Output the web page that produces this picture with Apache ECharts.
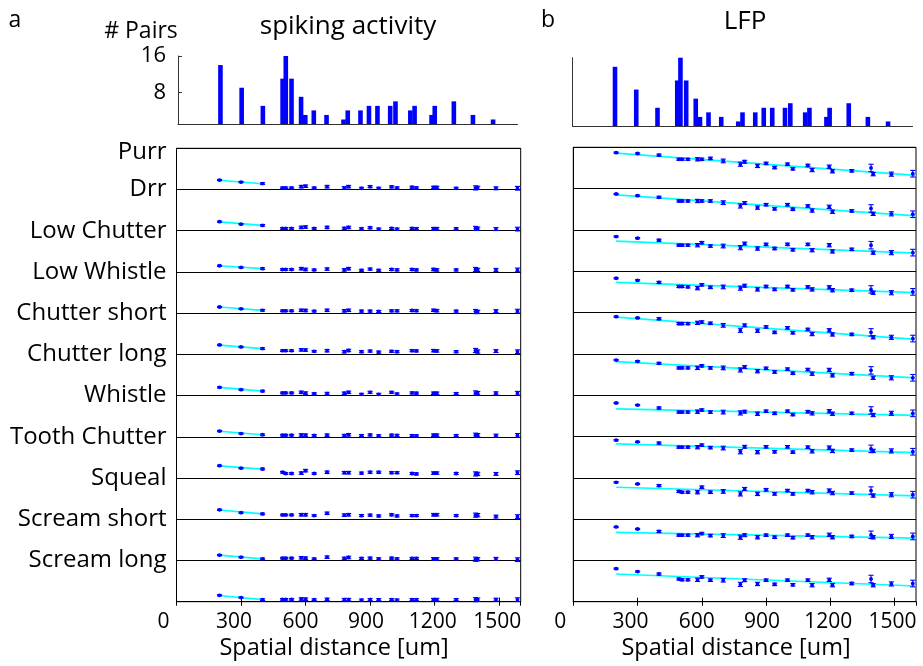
<!DOCTYPE html>
<html><head><meta charset="utf-8">
<script src="https://cdn.jsdelivr.net/npm/echarts@6/dist/echarts.min.js"></script>
<style>html,body{margin:0;padding:0;background:#fff}#c{width:923px;height:666px}</style>
</head><body><div id="c"></div>
<script>
// ---------- data ----------
const distances = [200,300,400,493,508,535,580,600,640,700,780,800,860,900,940,1000,1025,1095,1115,1195,1210,1300,1390,1400,1485,1585];
const pairCounts = [14,9,5,11,16,11,7,3,4,3,2,4,4,5,5,5,6,4,5,3,5,6,3,1,2,1];
const rowLabels = ['Purr','Drr','Low Chutter','Low Whistle','Chutter short','Chutter long','Whistle','Tooth Chutter','Squeal','Scream short','Scream long'];
const xTickValues = [0,300,600,900,1200,1500];
const pairTicks = [8,16];

// spiking activity: per-call correlation (row units, 0 = row bottom, 1 = row top)
const spikingRows = [
 [0.23,0.18,0.145,0.04,0.04,0.04,0.07,0.08,0.04,0.07,0.04,0.07,0.03,0.07,0.03,0.065,0.04,0.055,0.04,0.05,0.05,0.03,0.04,0.04,0.03,0.03],
 [0.22,0.16,0.13,0.056,0.056,0.056,0.08,0.09,0.056,0.08,0.056,0.08,0.048,0.072,0.04,0.056,0.04,0.056,0.05,0.05,0.05,0.048,0.056,0.05,0.04,0.04],
 [0.15,0.11,0.08,0.06,0.06,0.06,0.08,0.06,0.05,0.07,0.05,0.08,0.04,0.07,0.04,0.06,0.05,0.06,0.05,0.06,0.05,0.05,0.06,0.05,0.05,0.05],
 [0.15,0.105,0.07,0.057,0.057,0.057,0.07,0.065,0.05,0.07,0.057,0.07,0.05,0.05,0.04,0.057,0.057,0.065,0.06,0.07,0.06,0.05,0.04,0.03,0.05,0.05],
 [0.23,0.18,0.14,0.09,0.09,0.09,0.11,0.105,0.075,0.09,0.065,0.095,0.065,0.08,0.055,0.075,0.065,0.09,0.085,0.09,0.085,0.065,0.095,0.07,0.08,0.065],
 [0.20,0.145,0.11,0.065,0.065,0.065,0.08,0.06,0.05,0.05,0.057,0.08,0.03,0.08,0.03,0.08,0.04,0.065,0.06,0.057,0.057,0.05,0.065,0.06,0.057,0.057],
 [0.14,0.08,0.05,0.04,0.04,0.04,0.045,0.04,0.035,0.04,0.03,0.05,0.03,0.045,0.025,0.04,0.035,0.03,0.025,0.04,0.04,0.03,0.04,0.04,0.03,0.035],
 [0.30,0.24,0.22,0.14,0.11,0.11,0.12,0.18,0.11,0.14,0.13,0.13,0.12,0.14,0.14,0.13,0.13,0.11,0.10,0.12,0.12,0.11,0.10,0.10,0.10,0.13],
 [0.23,0.16,0.13,0.105,0.105,0.105,0.11,0.11,0.09,0.145,0.10,0.11,0.09,0.10,0.08,0.11,0.08,0.09,0.09,0.11,0.11,0.09,0.10,0.10,0.065,0.065],
 [0.13,0.08,0.04,0.057,0.057,0.057,0.065,0.057,0.04,0.08,0.05,0.073,0.05,0.057,0.04,0.057,0.04,0.05,0.05,0.04,0.04,0.04,0.03,0.03,0.04,0.02],
 [0.155,0.10,0.05,0.057,0.057,0.057,0.065,0.06,0.05,0.057,0.05,0.05,0.04,0.05,0.05,0.05,0.04,0.05,0.05,0.05,0.05,0.05,0.05,0.05,0.05,0.05]
];
const spikingErr = [0.015,0.015,0.02,0.02,0.02,0.02,0.03,0.03,0.02,0.03,0.03,0.03,0.025,0.025,0.025,0.025,0.025,0.025,0.025,0.03,0.03,0.025,0.05,0.04,0.035,0.045];
const spikingFitStart = [0.225,0.215,0.15,0.15,0.225,0.20,0.135,0.295,0.225,0.13,0.15];   // at 200 um
const spikingFitEnd   = [0.14,0.13,0.08,0.07,0.14,0.11,0.05,0.215,0.13,0.04,0.05];       // at 400 um

// LFP
const lfpRows = [
 [0.87,0.85,0.81,0.71,0.71,0.71,0.71,0.71,0.73,0.67,0.59,0.65,0.55,0.61,0.51,0.59,0.48,0.56,0.45,0.53,0.42,0.43,0.50,0.35,0.35,0.36],
 [0.87,0.83,0.79,0.70,0.70,0.70,0.70,0.70,0.70,0.66,0.58,0.65,0.54,0.61,0.51,0.61,0.50,0.58,0.47,0.56,0.44,0.46,0.52,0.39,0.39,0.38],
 [0.84,0.80,0.75,0.63,0.63,0.63,0.63,0.69,0.61,0.61,0.57,0.67,0.55,0.65,0.55,0.65,0.52,0.65,0.51,0.63,0.48,0.53,0.63,0.45,0.45,0.45],
 [0.83,0.78,0.73,0.63,0.63,0.62,0.59,0.67,0.61,0.62,0.59,0.65,0.56,0.63,0.56,0.63,0.55,0.62,0.56,0.61,0.54,0.54,0.56,0.48,0.48,0.50],
 [0.90,0.87,0.85,0.73,0.73,0.73,0.75,0.77,0.74,0.69,0.57,0.69,0.56,0.65,0.52,0.63,0.51,0.59,0.48,0.57,0.47,0.47,0.52,0.40,0.40,0.37],
 [0.85,0.82,0.77,0.66,0.66,0.66,0.66,0.71,0.66,0.66,0.61,0.68,0.58,0.65,0.56,0.63,0.53,0.62,0.52,0.61,0.48,0.52,0.60,0.42,0.42,0.42],
 [0.81,0.76,0.69,0.59,0.59,0.59,0.60,0.64,0.59,0.59,0.57,0.60,0.55,0.61,0.56,0.61,0.53,0.60,0.56,0.61,0.55,0.56,0.63,0.52,0.56,0.56],
 [0.91,0.87,0.84,0.74,0.74,0.74,0.74,0.79,0.73,0.72,0.63,0.75,0.62,0.75,0.63,0.75,0.62,0.74,0.64,0.73,0.65,0.67,0.70,0.65,0.65,0.63],
 [0.89,0.85,0.81,0.67,0.65,0.65,0.65,0.77,0.65,0.67,0.61,0.73,0.61,0.71,0.61,0.69,0.61,0.69,0.65,0.69,0.63,0.63,0.69,0.57,0.59,0.59],
 [0.81,0.76,0.70,0.61,0.61,0.61,0.61,0.65,0.60,0.60,0.56,0.61,0.56,0.61,0.56,0.61,0.55,0.61,0.56,0.62,0.56,0.58,0.62,0.56,0.58,0.58],
 [0.80,0.73,0.67,0.55,0.53,0.53,0.53,0.60,0.52,0.52,0.42,0.52,0.43,0.52,0.42,0.52,0.41,0.52,0.40,0.53,0.40,0.44,0.55,0.40,0.43,0.44]
];
const lfpErr = [0.015,0.015,0.025,0.025,0.025,0.025,0.04,0.03,0.03,0.045,0.05,0.035,0.04,0.03,0.03,0.03,0.03,0.03,0.04,0.04,0.04,0.03,0.09,0.04,0.05,0.08];
const lfpFitStart = [0.86,0.85,0.73,0.73,0.89,0.81,0.67,0.82,0.77,0.68,0.67];  // at 200 um
const lfpFitEnd   = [0.32,0.34,0.44,0.48,0.35,0.42,0.51,0.61,0.56,0.54,0.38];  // at 1600 um

// ---------- chart ----------
const FONT = "'Open Sans', sans-serif";
const BLUE = '#0000ff';
const chart = echarts.init(document.getElementById('c'), null, {renderer: 'canvas'});
const nRows = rowLabels.length;

function rowBase(i) { return nRows - 1 - i; }

function errItem(params, api) {
  const x = api.value(0), y = api.value(1), e = api.value(2);
  const c = api.coord([x, y]);
  const t = api.coord([x, y + e]);
  const b = api.coord([x, y - e]);
  const w = 2.6;
  const st = {stroke: BLUE, lineWidth: 1.1};
  return {type: 'group', children: [
    {type: 'line', shape: {x1: c[0], y1: t[1], x2: c[0], y2: b[1]}, style: st},
    {type: 'line', shape: {x1: c[0] - w, y1: t[1], x2: c[0] + w, y2: t[1]}, style: st},
    {type: 'line', shape: {x1: c[0] - w, y1: b[1], x2: c[0] + w, y2: b[1]}, style: st},
    {type: 'circle', shape: {cx: c[0], cy: c[1], r: 1.9}, style: {fill: BLUE}}
  ]};
}

function errData(rows, err) {
  const out = [];
  rows.forEach((r, i) => r.forEach((v, j) => out.push([distances[j], rowBase(i) + v, err[j]])));
  return out;
}

const labelOffsets = {0: 26, 300: 14, 600: 10, 900: 8, 1200: 4, 1500: 4};
const rich = {};
xTickValues.forEach(v => { rich['s' + v] = {fontSize: 21, fontFamily: FONT, color: '#000', padding: [0, labelOffsets[v], 0, 0]}; });
function xLabelFmt(v) { return xTickValues.indexOf(v) >= 0 ? '{s' + v + '|' + v + '}' : ''; }

const yRich = {
  top: {fontSize: 24, fontFamily: FONT, color: '#000', padding: [8, 0, 0, 0]},
  n: {fontSize: 24, fontFamily: FONT, color: '#000'}
};

function histX(grid) {
  return {gridIndex: grid, type: 'value', min: 0, max: 1600,
    axisLine: {show: true, onZero: false, lineStyle: {color: '#333', width: 1}},
    axisTick: {show: false}, axisLabel: {show: false}, splitLine: {show: false}};
}
function mainXBottom(grid) {
  return {gridIndex: grid, type: 'value', min: 0, max: 1600, interval: 300, position: 'bottom',
    axisLine: {show: true, onZero: false, lineStyle: {color: '#000'}},
    axisTick: {show: true, inside: true, length: 4, lineStyle: {color: '#000'}},
    axisLabel: {show: true, margin: 10, formatter: xLabelFmt, rich: rich, showMaxLabel: false},
    splitLine: {show: false}};
}
function mainXTop(grid) {
  return {gridIndex: grid, type: 'value', min: 0, max: 1600, interval: 300, position: 'top',
    axisLine: {show: false},
    axisTick: {show: true, inside: true, length: 4, lineStyle: {color: '#000'}},
    axisLabel: {show: false}, splitLine: {show: false}};
}
function mainY(grid, showLabels) {
  return {gridIndex: grid, type: 'value', min: 0, max: nRows, interval: 1,
    axisLine: {show: true, lineStyle: {color: '#000'}},
    axisTick: {show: false},
    axisLabel: {show: showLabels, margin: 10, color: '#000', fontSize: 24, fontFamily: FONT, rich: yRich,
      formatter: v => (v >= 1 && v <= nRows) ? ('{' + (v === nRows ? 'top' : 'n') + '|' + rowLabels[nRows - v] + '}') : ''},
    splitLine: {show: true, lineStyle: {color: '#000', width: 1}}};
}

const series = [];
// histograms
[0, 2].forEach(g => {
  series.push({type: 'bar', xAxisIndex: g === 0 ? 0 : 3, yAxisIndex: g === 0 ? 0 : 2,
    data: distances.map((d, i) => [d, pairCounts[i]]), barWidth: 4.6,
    itemStyle: {color: BLUE}, silent: true, animation: false});
});
// fits
spikingFitStart.forEach((s, i) => series.push({type: 'line', xAxisIndex: 1, yAxisIndex: 1,
  data: [[200, rowBase(i) + s], [400, rowBase(i) + spikingFitEnd[i]]],
  symbol: 'none', lineStyle: {color: '#00ffff', width: 1.7}, z: 2, animation: false}));
lfpFitStart.forEach((s, i) => series.push({type: 'line', xAxisIndex: 4, yAxisIndex: 3,
  data: [[200, rowBase(i) + s], [1600, rowBase(i) + lfpFitEnd[i]]],
  symbol: 'none', lineStyle: {color: '#00ffff', width: 1.7}, z: 2, animation: false}));
// error bars + points
series.push({type: 'custom', xAxisIndex: 1, yAxisIndex: 1, renderItem: errItem,
  data: errData(spikingRows, spikingErr), z: 3, animation: false});
series.push({type: 'custom', xAxisIndex: 4, yAxisIndex: 3, renderItem: errItem,
  data: errData(lfpRows, lfpErr), z: 3, animation: false});

const txt = (text, x, y, size, align) => ({type: 'text', x: x, y: y,
  style: {text: text, font: size + 'px ' + FONT, fill: '#000', align: align || 'center', verticalAlign: 'middle'}});

chart.setOption({
  animation: false,
  backgroundColor: '#fff',
  grid: [
    {left: 178, top: 56, width: 339.5, height: 68},
    {left: 176.5, top: 148.3, width: 344.2, height: 453.4, show: true, borderColor: '#000', borderWidth: 1},
    {left: 572.5, top: 57.7, width: 340, height: 68.3},
    {left: 573.3, top: 147.3, width: 342.7, height: 454.4, show: true, borderColor: '#000', borderWidth: 1}
  ],
  xAxis: [histX(0), mainXBottom(1), mainXTop(1), histX(2), mainXBottom(3), mainXTop(3)],
  yAxis: [
    {gridIndex: 0, type: 'value', min: 1, max: 16,
      axisLine: {show: true, lineStyle: {color: '#333'}},
      axisTick: {show: true, inside: true, length: 4, customValues: pairTicks, lineStyle: {color: '#333'}},
      axisLabel: {show: true, customValues: pairTicks, margin: 12, color: '#000', fontSize: 22, fontFamily: FONT},
      splitLine: {show: false}},
    mainY(1, true),
    {gridIndex: 2, type: 'value', min: 1, max: 16,
      axisLine: {show: true, lineStyle: {color: '#333'}},
      axisTick: {show: false}, axisLabel: {show: false}, splitLine: {show: false}},
    mainY(3, false)
  ],
  graphic: [
    txt('a', 15, 20, 23),
    txt('b', 548, 20, 23),
    txt('spiking activity', 348, 27, 26),
    txt('LFP', 745, 22, 26),
    txt('# Pairs', 141, 31, 23),
    txt('Spatial distance [um]', 334, 648, 23.5),
    txt('Spatial distance [um]', 736, 648, 23.5)
  ],
  series: series
});
</script></body></html>
